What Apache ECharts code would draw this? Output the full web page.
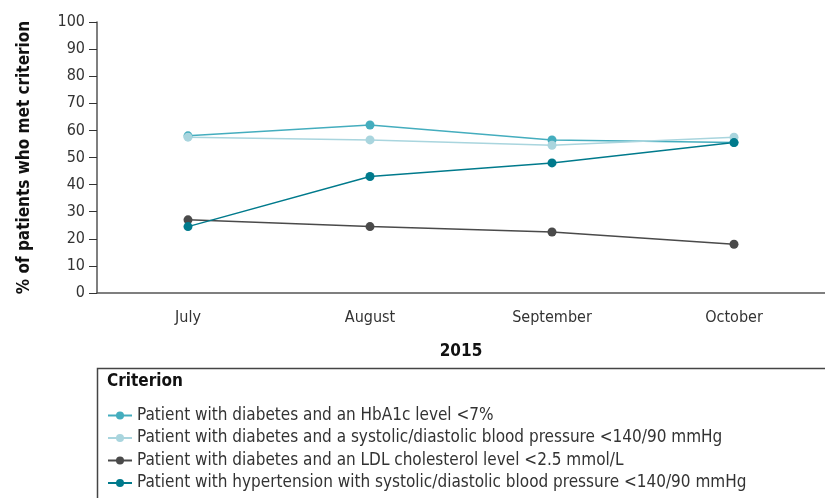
<!DOCTYPE html>
<html>
<head>
<meta charset="utf-8">
<script src="https://cdn.jsdelivr.net/npm/echarts@6/dist/echarts.min.js"></script>
<style>
  html, body { margin: 0; padding: 0; background: #fff; }
  #chart { width: 825px; height: 498px; }
</style>
</head>
<body>
<div id="chart"></div>
<script>
// months on the x axis
var months = ['July', 'August', 'September', 'October'];
var yTicks = [0, 10, 20, 30, 40, 50, 60, 70, 80, 90, 100];

var seriesNames = [
  'Patient with diabetes and an HbA1c level <7%',
  'Patient with diabetes and a systolic/diastolic blood pressure <140/90 mmHg',
  'Patient with diabetes and an LDL cholesterol level <2.5 mmol/L',
  'Patient with hypertension with systolic/diastolic blood pressure <140/90 mmHg'
];
var hba1c = [58, 62, 56.5, 55.5];
var diabetesBP = [57.5, 56.5, 54.5, 57.5];
var ldl = [27, 24.5, 22.5, 18];
var hypertensionBP = [24.5, 43, 48, 55.5];
var colors = ['#44adbe', '#a9d5de', '#4a4a4a', '#007a8c'];

var font = '"DejaVu Sans Condensed", "Liberation Sans Narrow", sans-serif';
var allData = [hba1c, diabetesBP, ldl, hypertensionBP];

var seriesdata = [];
for (var i = 0; i < allData.length; i++) {
  seriesdata.push({
    name: seriesNames[i],
    type: 'line',
    data: allData[i],
    symbol: 'circle',
    symbolSize: 9,
    lineStyle: { width: 1.5, color: colors[i] },
    itemStyle: { color: colors[i] }
  });
}

var myChart = echarts.init(document.getElementById('chart'));
var option = {
  animation: false,
  textStyle: { fontFamily: font },
  grid: { left: 97, right: 0, top: 22, bottom: 205 },
  xAxis: {
    type: 'category',
    data: months,
    boundaryGap: true,
    name: '2015',
    nameLocation: 'middle',
    nameGap: 50,
    nameTextStyle: { fontFamily: font, fontWeight: 'bold', fontSize: 17, color: '#111' },
    axisLine: { lineStyle: { color: '#555', width: 1.5 } },
    axisTick: { alignWithLabel: true, length: 8, lineStyle: { color: '#333' } },
    axisLabel: { fontSize: 16, color: '#333', margin: 17 },
    splitLine: { show: false }
  },
  yAxis: {
    type: 'value',
    min: yTicks[0],
    max: yTicks[yTicks.length - 1],
    interval: 10,
    name: '% of patients who met criterion',
    nameLocation: 'middle',
    nameGap: 64,
    nameTextStyle: { fontFamily: font, fontWeight: 'bold', fontSize: 17, color: '#111' },
    axisLine: { show: true, lineStyle: { color: '#555', width: 1.5 } },
    axisTick: { show: true, length: 8, lineStyle: { color: '#333' } },
    axisLabel: { fontSize: 16, color: '#333', margin: 12 },
    splitLine: { show: false }
  },
  legend: {
    orient: 'vertical',
    left: 102,
    top: 402,
    height: 200,
    itemWidth: 24,
    itemHeight: 10,
    itemGap: 5.5,
    data: seriesNames,
    textStyle: { fontFamily: font, fontSize: 17, color: '#333' }
  },
  graphic: [
    {
      type: 'rect',
      shape: { x: 97.5, y: 368.5, width: 800, height: 200 },
      style: { fill: 'none', stroke: '#444', lineWidth: 1.5 }
    },
    {
      type: 'text',
      left: 107,
      top: 373,
      style: { text: 'Criterion', font: 'bold 17px ' + font, fill: '#111' }
    }
  ],
  series: seriesdata
};
myChart.setOption(option, true);
</script>
</body>
</html>
